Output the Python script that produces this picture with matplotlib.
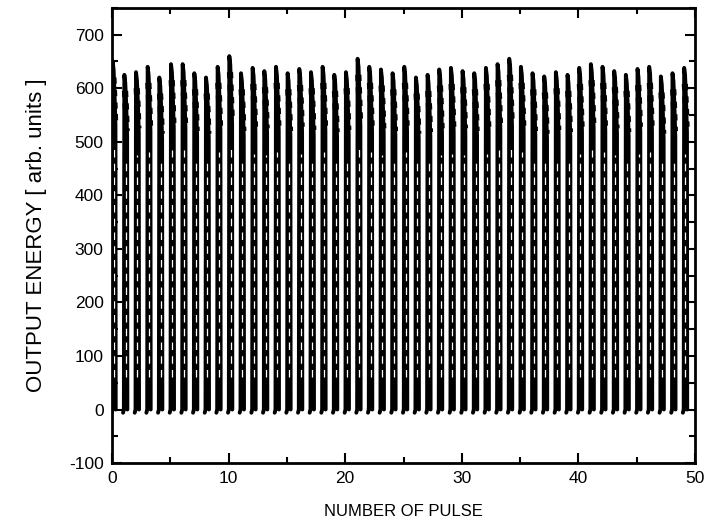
import numpy as np
import matplotlib
matplotlib.use("Agg")
import matplotlib.pyplot as plt
from matplotlib.ticker import MultipleLocator

plt.rcParams['font.family'] = ['Liberation Sans', 'DejaVu Sans']
plt.rcParams['axes.unicode_minus'] = False

# pulse index and read-off peak output energies (arb. units)
pulse_index = list(range(50))
peak_energy = [650, 625, 630, 640, 620, 645, 645, 628, 620, 640,
               660, 628, 638, 632, 640, 628, 636, 630, 640, 625,
               630, 655, 640, 635, 628, 640, 620, 625, 635, 638,
               632, 628, 638, 645, 655, 640, 628, 622, 630, 625,
               638, 645, 640, 632, 625, 636, 640, 622, 628, 638]
shoulder_energy = [590, 570, 575, 580, 565, 585, 585, 570, 565, 580,
                   595, 570, 578, 575, 580, 570, 578, 572, 580, 568,
                   572, 590, 580, 575, 570, 580, 565, 568, 575, 578,
                   575, 570, 578, 585, 590, 580, 570, 565, 572, 568,
                   578, 585, 580, 575, 568, 578, 580, 565, 570, 578]
base_energy = 0

x_ticks = [0, 10, 20, 30, 40, 50]
y_ticks = [-100, 0, 100, 200, 300, 400, 500, 600, 700]

fig = plt.figure(figsize=(7.06, 5.28), dpi=100)
ax = fig.add_axes([0.1586, 0.123, 0.826, 0.862])

xs, ys = [], []
dx, dy = [], []
wx, wy = [], []
for n, p, s in zip(pulse_index, peak_energy, shoulder_energy):
    xs += [n - 0.05, n + 0.02, n + 0.06, n + 0.14, n + 0.22, n + 0.3, n + 0.32, np.nan]
    ys += [base_energy - 6, base_energy, p, p - 15, s, s - 60, base_energy, np.nan]
    dx += [n + 0.12, n + 0.2, n + 0.26, np.nan]
    dy += [p - 30, s - 10, s - 50, np.nan]
    wx += [n + 0.17, n + 0.17, np.nan]
    wy += [60, s - 100, np.nan]

ax.plot(xs, ys, color='black', lw=2.8, solid_joinstyle='round', solid_capstyle='round')
ax.plot(dx, dy, color='black', lw=4.5, ls=(0, (1, 1)))
ax.plot(wx, wy, color='white', lw=0.9, ls=(0, (6, 5)))

ax.set_xlim(0, 50)
ax.set_ylim(-100, 750)
ax.set_xticks(x_ticks)
ax.set_yticks(y_ticks)
ax.xaxis.set_minor_locator(MultipleLocator(5))
ax.yaxis.set_minor_locator(MultipleLocator(50))
ax.tick_params(which='both', direction='in', top=True, right=True, width=1.5, labelsize=12.5)
ax.tick_params(which='major', length=7, pad=6)
ax.tick_params(which='minor', length=4)
for sp in ax.spines.values():
    sp.set_linewidth(2)

ax.set_xlabel('NUMBER OF PULSE', fontsize=12, labelpad=13)
ax.set_ylabel('OUTPUT ENERGY [ arb. units ]', fontsize=16, labelpad=16)

fig.savefig('out.png', dpi=100)
